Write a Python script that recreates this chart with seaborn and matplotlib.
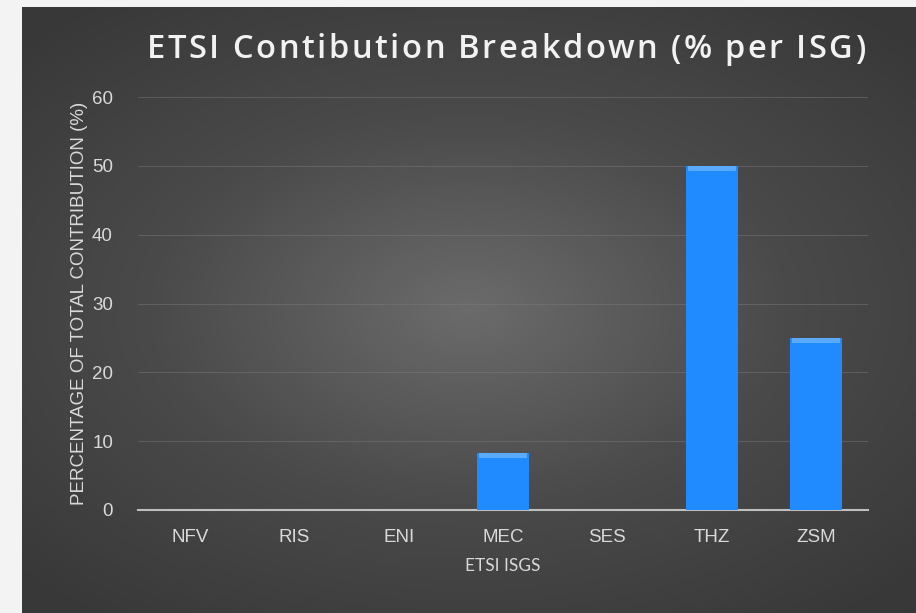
import numpy as np
import pandas as pd
import matplotlib.pyplot as plt
import seaborn as sns

# ETSI ISG contribution shares
isgs = ["NFV", "RIS", "ENI", "MEC", "SES", "THZ", "ZSM"]
share = [0, 0, 0, 8.3, 0, 50, 25]
title = "ETSI Contibution Breakdown (% per ISG)"

df = pd.DataFrame({"ISG": isgs, "Share": share})

sns.set_style("white")
plt.rcParams['font.family'] = ['Liberation Sans', 'DejaVu Sans']

fig = plt.figure(figsize=(9.16, 6.13), dpi=100)
fig.patch.set_facecolor("#f3f3f3")

# dark radial gradient panel behind the chart
bg = fig.add_axes([22 / 916, 0, 1 - 22 / 916, 1 - 7 / 613], zorder=0)
yy, xx = np.mgrid[-1:1:300j, -1:1:450j]
r = np.sqrt((xx * 0.95) ** 2 + (yy * 1.05) ** 2)
bg.imshow(r, cmap=sns.blend_palette(["#6b6b6b", "#4a4a4a", "#383838"], as_cmap=True),
          aspect="auto", extent=[0, 1, 0, 1], vmin=0, vmax=1.35)
bg.axis("off")

ax = fig.add_axes([138 / 916, 1 - 510 / 613, 730 / 916, 413 / 613], zorder=1)
ax.patch.set_alpha(0)
sns.barplot(data=df, x="ISG", y="Share", color="#1f8bff", width=0.5,
            saturation=1, ax=ax, zorder=3)
for p in list(ax.patches):
    p.set_linewidth(0)
    # lighter bevel strip along the top of each bar
    if p.get_height() > 0:
        ax.bar(p.get_x() + p.get_width() / 2, 0.7, bottom=p.get_height() - 0.7,
               width=p.get_width() * 0.92, color="#5aabff", linewidth=0, zorder=4)

ax.set_ylim(0, 60)
ax.set_xlim(-0.5, 6.5)
ax.set_yticks(range(0, 61, 10))
ax.yaxis.grid(True, color="#7a7a7a", linewidth=0.7, alpha=0.5)
for s in ["top", "right", "left"]:
    ax.spines[s].set_visible(False)
ax.spines["bottom"].set_color("#bfbfbf")
ax.spines["bottom"].set_linewidth(1.5)
ax.tick_params(axis="both", colors="#d9d9d9", labelsize=13.5, length=0)
ax.tick_params(axis="x", pad=14)
ax.tick_params(axis="y", pad=18)

ax.set_xlabel("ETSI ISGS", color="#d9d9d9", fontsize=12.5, labelpad=8,
              family=["Lato", "DejaVu Sans"])
ax.set_ylabel("PERCENTAGE OF TOTAL CONTRIBUTION (%)", color="#d9d9d9",
              fontsize=13.5, labelpad=3)

# letter-spaced title, laid out one character at a time
renderer = fig.canvas.get_renderer()
x0, x1, ty = 147, 865, 1 - 50 / 613
chars = []
total = 0
for ch in title:
    t = fig.text(0, ty, ch, fontsize=23.5, color="#f2f2f2", va="center",
                 family=["Open Sans", "DejaVu Sans"], fontweight=600, zorder=2)
    w = t.get_window_extent(renderer).width if ch != " " else 8
    chars.append((t, w))
    total += w
gap = (x1 - x0 - total) / (len(title) - 1)
x = x0
for t, w in chars:
    t.set_x(x / 916)
    x += w + gap

plt.savefig("out.png", dpi=100, facecolor=fig.get_facecolor())
